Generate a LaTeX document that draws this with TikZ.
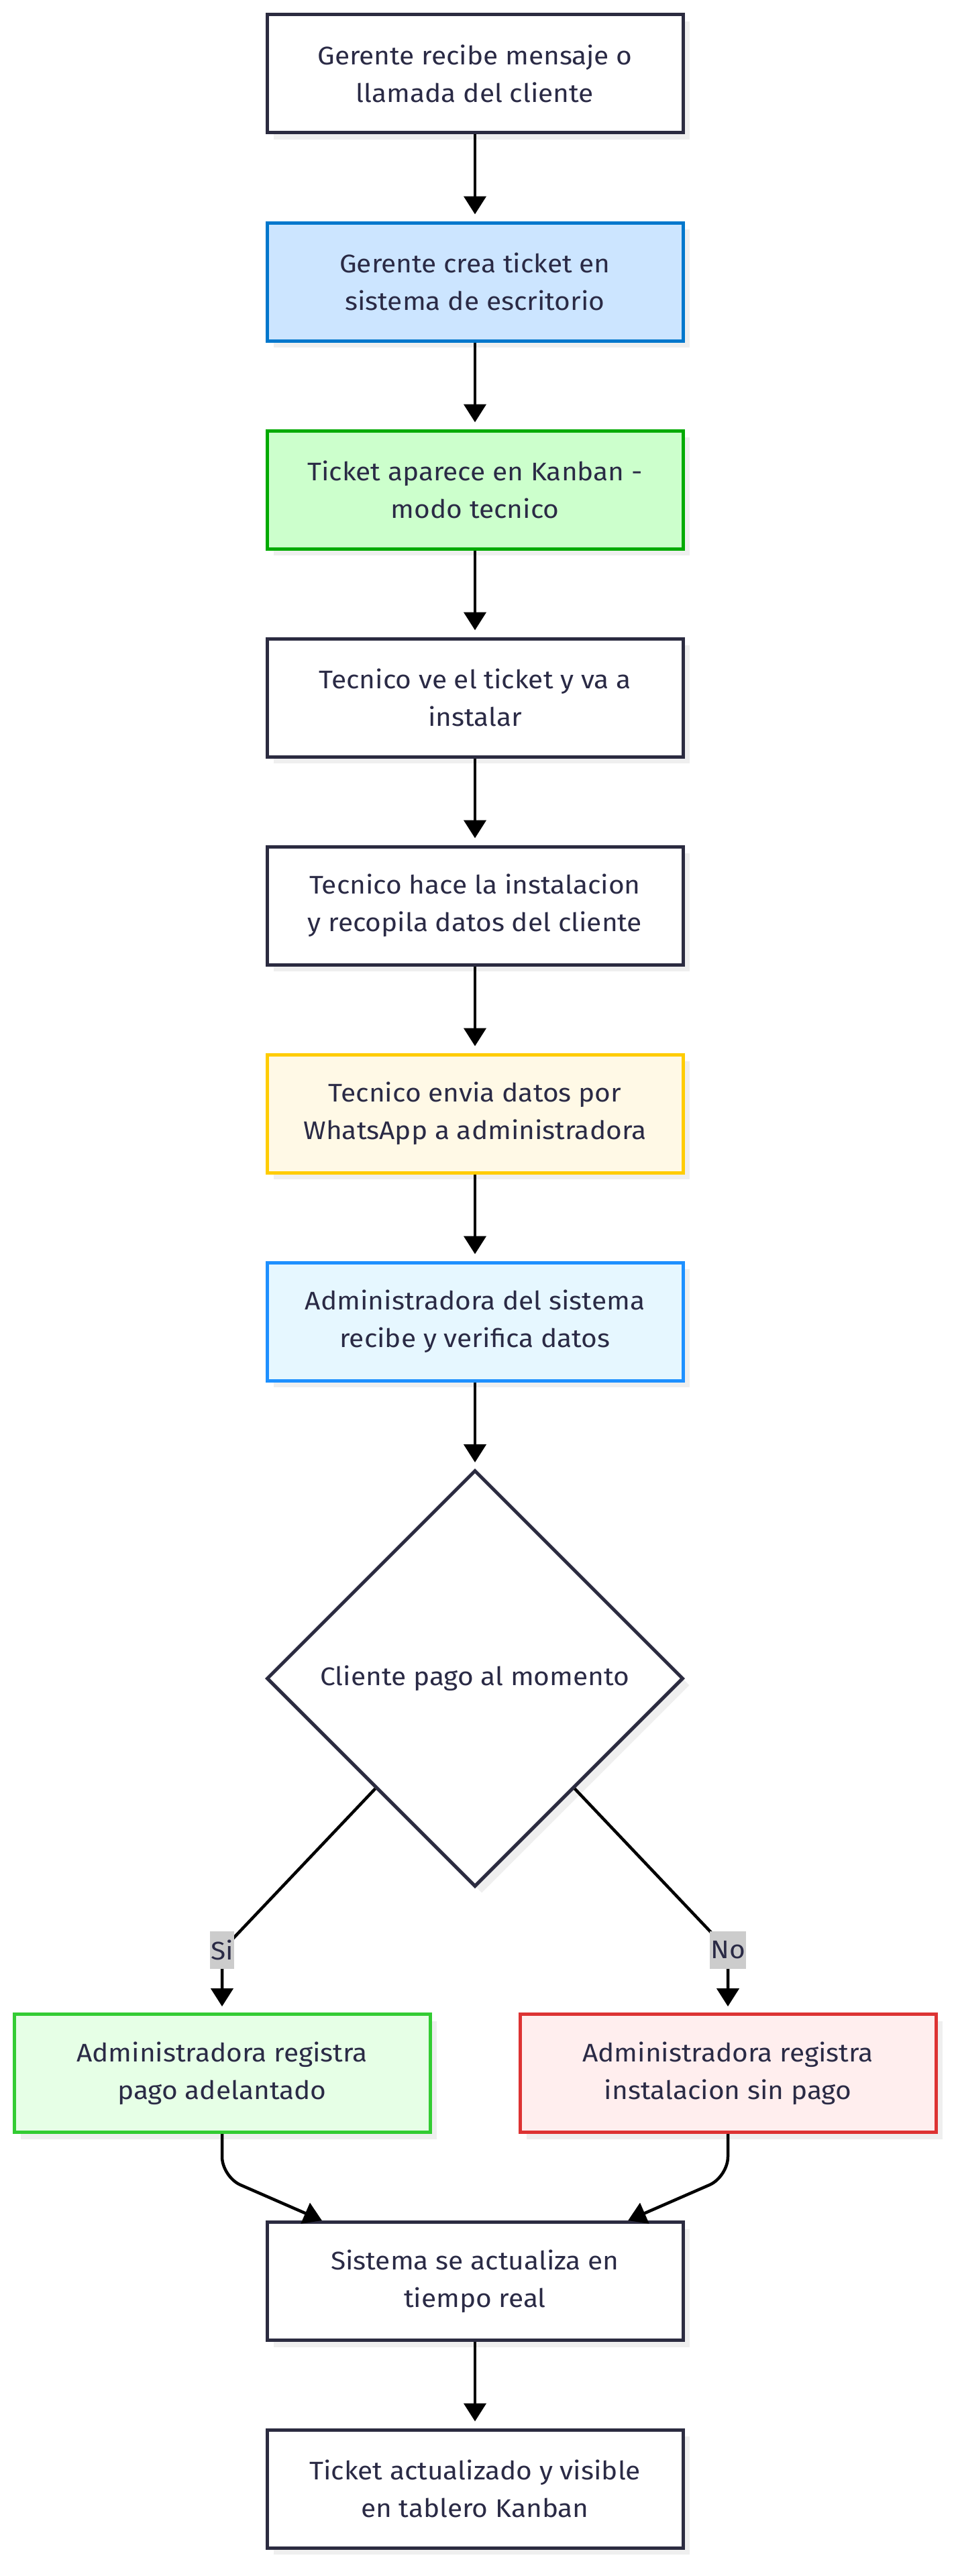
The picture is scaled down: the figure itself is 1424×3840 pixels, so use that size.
\documentclass[tikz,border=0pt]{standalone}
\usepackage{fontspec}
\setmainfont[FakeStretch=1.07]{Fira Sans}
\usetikzlibrary{shapes.geometric,arrows.meta,shadows,calc}
\definecolor{ink}{HTML}{2A2A45}
\definecolor{dark}{HTML}{2B2B40}
\definecolor{shad}{HTML}{EFEFEF}
\definecolor{lab}{HTML}{CCCCCC}
\definecolor{bluef}{HTML}{CCE5FF}\definecolor{blued}{HTML}{0077CC}
\definecolor{greenf}{HTML}{CCFFCC}\definecolor{greend}{HTML}{00AA00}
\definecolor{yelf}{HTML}{FFF9E6}\definecolor{yeld}{HTML}{FFCC00}
\definecolor{skyf}{HTML}{E6F7FF}\definecolor{skyd}{HTML}{1E90FF}
\definecolor{lgf}{HTML}{E6FFE6}\definecolor{lgd}{HTML}{33CC33}
\definecolor{redf}{HTML}{FFEEEE}\definecolor{redd}{HTML}{DD3333}
\begin{document}
\begin{tikzpicture}[x=1pt,y=-1pt,
  txt/.style={text=ink, align=center, font=\fontsize{38}{56}\selectfont},
  box/.style={txt, rectangle, draw=dark, fill=white, line width=5pt,
    minimum width=620pt, minimum height=176pt, inner sep=0pt,
    drop shadow={shadow xshift=10pt, shadow yshift=-10pt, fill=shad, opacity=1}},
  dec/.style={txt, diamond, aspect=1, draw=dark, fill=white, line width=5pt,
    minimum width=621pt, minimum height=621pt, inner sep=0pt,
    drop shadow={shadow xshift=10pt, shadow yshift=-10pt, fill=shad, opacity=1}},
  conn/.style={draw=black, line width=4.5pt, -{Triangle[length=27pt,width=33pt]}},
  lbl/.style={txt, fill=lab, inner xsep=1pt, inner ysep=0pt, minimum height=56pt}
]
\useasboundingbox (0,0) rectangle (1424,3840);

\node[box] (b1) at (708,110) {Gerente recibe mensaje o\\llamada del cliente};
\node[box, fill=bluef, draw=blued] (b2) at (708,420) {Gerente crea ticket en\\sistema de escritorio};
\node[box, fill=greenf, draw=greend] (b3) at (708,730) {Ticket aparece en Kanban -\\modo tecnico};
\node[box] (b4) at (708,1040) {Tecnico ve el ticket y va a\\instalar};
\node[box] (b5) at (708,1350) {Tecnico hace la instalacion\\y recopila datos del cliente};
\node[box, fill=yelf, draw=yeld] (b6) at (708,1660) {Tecnico envia datos por\\WhatsApp a administradora};
\node[box, fill=skyf, draw=skyd] (b7) at (708,1970) {Administradora del sistema\\recibe y verifica datos};
\node[dec] (d) at (708,2502) {Cliente pago al momento};
\node[box, fill=lgf, draw=lgd] (yes) at (331,3090.5) {Administradora registra\\pago adelantado};
\node[box, fill=redf, draw=redd] (no) at (1085,3090.5) {Administradora registra\\instalacion sin pago};
\node[box] (b10) at (708,3400.5) {Sistema se actualiza en\\tiempo real};
\node[box] (b11) at (708,3710) {Ticket actualizado y visible\\en tablero Kanban};

\draw[conn, shorten >=10pt] (b1) -- (b2);
\draw[conn, shorten >=10pt] (b2) -- (b3);
\draw[conn, shorten >=10pt] (b3) -- (b4);
\draw[conn, shorten >=10pt] (b4) -- (b5);
\draw[conn, shorten >=10pt] (b5) -- (b6);
\draw[conn, shorten >=10pt] (b6) -- (b7);
\draw[conn, shorten >=9pt] (b7) -- (d);

\coordinate (ys) at ($(d.west)!0.525!(d.south)$);
\coordinate (ns) at ($(d.east)!0.525!(d.south)$);
\coordinate (ysl) at (331,2907);
\coordinate (nsl) at (1085,2907);
\draw[conn, shorten >=9pt] (ys) -- (ysl) -- (yes.north);
\draw[conn, shorten >=9pt] (ns) -- (nsl) -- (no.north);

\coordinate (lc) at (331,3245);
\coordinate (rc) at (1085,3245);
\coordinate (lt) at ($(b10.north west)!0.135!(b10.north east)$);
\coordinate (rt) at ($(b10.north west)!0.865!(b10.north east)$);
\draw[conn, rounded corners=30pt] (yes.south) -- (lc) -- (lt);
\draw[conn, rounded corners=30pt] (no.south) -- (rc) -- (rt);

\draw[conn, shorten >=10pt] (b10) -- (b11);

\node[lbl] (si) at (ysl) {Si};
\node[lbl] (nolbl) at (nsl) {No};
\end{tikzpicture}
\end{document}
